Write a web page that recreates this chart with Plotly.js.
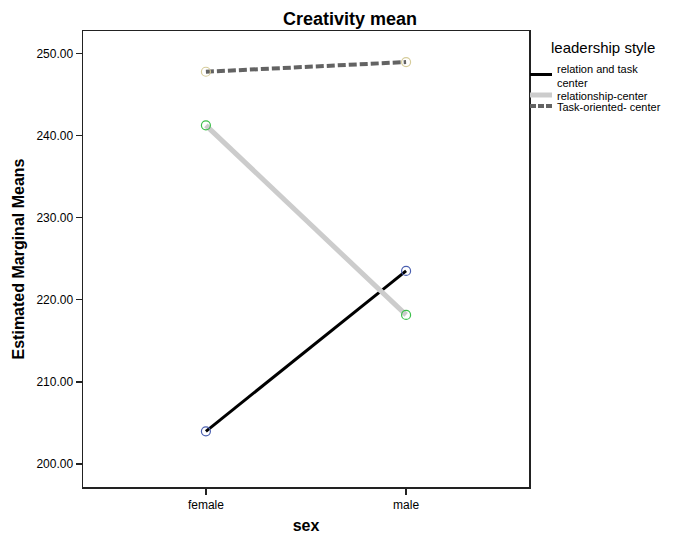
<!DOCTYPE html>
<html><head><meta charset="utf-8">
<script src="https://cdn.plot.ly/plotly-3.0.1.min.js"></script>
<style>body{margin:0;padding:0;background:#fff}#chart{width:675px;height:534px}</style>
</head><body><div id="chart"></div>
<script>
var categories = ["female", "male"];
var seriesNames = ["relation and task<br>center", "relationship-center", "Task-oriented- center"];
var relationTask = [203.98, 223.51];
var relationship = [241.23, 218.15];
var taskOriented = [247.76, 248.94];
var yTickVals = [200, 210, 220, 230, 240, 250];
var legendTitle = "leadership style";

var lineStyles = [
  {color: "#000000", width: 3, dash: "solid"},
  {color: "#cccccc", width: 5, dash: "solid"},
  {color: "#636363", width: 4, dash: "8px,3px"}
];
var markerColors = ["#4a5fb0", "#3cbf4a", "#d6cc9a"];
var allSeries = [relationTask, relationship, taskOriented];

var W = 675, H = 534;
var M = {l: 83, r: 146, t: 31, b: 47};
var plotW = W - M.l - M.r, plotH = H - M.t - M.b;
function px2x(px){ return (px - M.l) / plotW; }
function px2y(py){ return (H - M.b - py) / plotH; }

var traces = [];
allSeries.forEach(function(vals, i){
  traces.push({x: categories, y: vals, type: "scatter", mode: "lines",
    name: seriesNames[i], line: lineStyles[i], hoverinfo: "skip", showlegend: false});
});
allSeries.forEach(function(vals, i){
  traces.push({x: categories, y: vals, type: "scatter", mode: "markers",
    showlegend: false, hoverinfo: "skip",
    marker: {symbol: "circle-open", size: 9, color: markerColors[i], line: {width: 1.2, color: markerColors[i]}}});
});

var font = "Liberation Sans, Arial, sans-serif";

// custom legend (pixel layout converted to paper coordinates)
var legendSampleX0 = 530, legendSampleX1 = 552, legendTextX = 555;
var legendSampleY = [74.5, 95, 106];
var legendTextY = [76, 96.5, 107];
var shapes = [], annotations = [];
annotations.push({xref: "paper", yref: "paper", x: px2x(603), y: px2y(47), xanchor: "center", yanchor: "middle",
  text: legendTitle, showarrow: false, font: {family: font, size: 15, color: "#000"}});
seriesNames.forEach(function(name, i){
  shapes.push({type: "line", xref: "paper", yref: "paper", layer: "above",
    x0: px2x(legendSampleX0), x1: px2x(legendSampleX1), y0: px2y(legendSampleY[i]), y1: px2y(legendSampleY[i]),
    line: {color: lineStyles[i].color, width: lineStyles[i].width, dash: lineStyles[i].dash === "solid" ? "solid" : "6px,2px"}});
  annotations.push({xref: "paper", yref: "paper", x: px2x(legendTextX), y: px2y(legendTextY[i]),
    xanchor: "left", yanchor: "middle", align: "left", showarrow: false, text: name,
    font: {family: font, size: 11, color: "#000"}});
});

var layout = {
  width: W, height: H,
  margin: {l: M.l, r: M.r, t: M.t, b: M.b, pad: 0},
  paper_bgcolor: "#fff", plot_bgcolor: "#fff",
  font: {family: font, size: 12, color: "#000"},
  title: {text: "<b>Creativity mean</b>", font: {family: font, size: 18, color: "#000"},
    x: 350 / W, xanchor: "center", y: 1 - 18.5 / H, yanchor: "middle"},
  xaxis: {
    type: "category", range: [-0.614, 1.614],
    showline: true, mirror: true, linecolor: "#222", linewidth: 1.5,
    ticks: "outside", ticklen: 6, tickcolor: "#222", tickwidth: 1.5,
    showgrid: false, zeroline: false,
    tickfont: {family: font, size: 12, color: "#000"},
    title: {text: "<b>sex</b>", font: {family: font, size: 16, color: "#000"}, standoff: 17}
  },
  yaxis: {
    range: [197.2, 252.72],
    tickvals: yTickVals, tickformat: ".2f",
    showline: true, mirror: true, linecolor: "#222", linewidth: 1.5,
    ticks: "outside", ticklen: 6, tickcolor: "#222", tickwidth: 1.5,
    showgrid: false, zeroline: false,
    tickfont: {family: font, size: 12, color: "#000"},
    title: {text: "<b>Estimated Marginal Means</b>", font: {family: font, size: 16, color: "#000"}, standoff: 8}
  },
  shapes: shapes,
  annotations: annotations,
  showlegend: false
};
Plotly.newPlot("chart", traces, layout, {staticPlot: true, displayModeBar: false});
</script></body></html>
